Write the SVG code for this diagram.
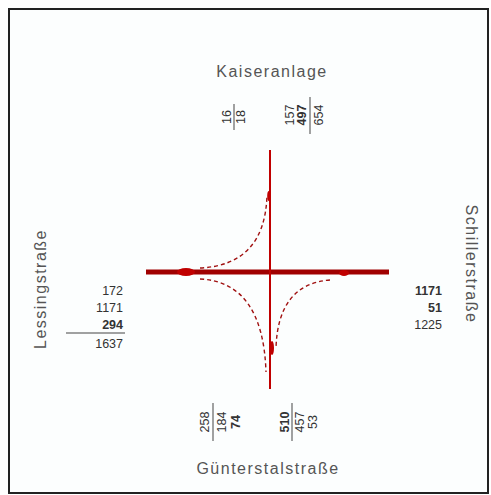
<svg xmlns="http://www.w3.org/2000/svg" width="491" height="495" viewBox="0 0 491 495">
<style>
.street{font-family:"Liberation Sans",Arial,sans-serif;font-size:16px;fill:#555;text-anchor:middle;letter-spacing:1.5px}
.num{font-family:"Liberation Sans",Arial,sans-serif;font-size:12.5px;fill:#333;text-anchor:middle;dominant-baseline:central}
.numr{font-family:"Liberation Sans",Arial,sans-serif;font-size:12.5px;fill:#333;text-anchor:end}
.b{font-weight:bold}
.sep{stroke:#444;stroke-width:1}
.dash{fill:none;stroke:#a01010;stroke-width:1.4;stroke-dasharray:4 3}
</style>
<rect x="0" y="0" width="491" height="495" fill="#fff"/>
<rect x="9" y="9" width="479" height="484" fill="#fcfefe" stroke="#222" stroke-width="2"/>
<g id="labels">
<text class="street" x="272" y="77">Kaiseranlage</text>
<text class="street" x="268" y="474">Günterstalstraße</text>
<text class="street" transform="translate(46,289) rotate(-90)">Lessingstraße</text>
<text class="street" transform="translate(466,264) rotate(90)">Schillerstraße</text>
</g>
<g id="node-top">
<text class="num" transform="translate(227,117) rotate(-90)">16</text>
<line class="sep" x1="234" y1="104" x2="234" y2="130"/>
<text class="num" transform="translate(241,117) rotate(-90)">18</text>
<text class="num" transform="translate(290,115) rotate(-90)">157</text>
<text class="num b" transform="translate(302,115) rotate(-90)">497</text>
<line class="sep" x1="310" y1="97" x2="310" y2="134"/>
<text class="num" transform="translate(319,115) rotate(-90)">654</text>
</g>
<g id="node-bottom">
<text class="num" transform="translate(205,422) rotate(-90)">258</text>
<line class="sep" x1="213" y1="403" x2="213" y2="441"/>
<text class="num" transform="translate(222,422) rotate(-90)">184</text>
<text class="num b" transform="translate(236,422) rotate(-90)">74</text>
<text class="num b" transform="translate(285,422) rotate(-90)">510</text>
<line class="sep" x1="292" y1="403" x2="292" y2="441"/>
<text class="num" transform="translate(300,422) rotate(-90)">457</text>
<text class="num" transform="translate(313,422) rotate(-90)">53</text>
</g>
<g id="node-left">
<text class="numr" x="123" y="295">172</text>
<text class="numr" x="123" y="312">1171</text>
<text class="numr b" x="123" y="329">294</text>
<line class="sep" x1="66" y1="333" x2="125" y2="333"/>
<text class="numr" x="123" y="348">1637</text>
</g>
<g id="node-right">
<text class="numr b" x="442" y="295">1171</text>
<text class="numr b" x="442" y="312">51</text>
<text class="numr" x="442" y="329">1225</text>
</g>
<g id="connectors">
<line x1="146" y1="272" x2="389" y2="272" stroke="#a00000" stroke-width="5"/>
<line x1="270" y1="150" x2="270" y2="389" stroke="#c00000" stroke-width="2"/>
<path class="dash" d="M200 268 Q265 265 267 195"/>
<path class="dash" d="M200 279 Q263 282 266 372"/>
<path class="dash" d="M330 280 Q278 284 276 348"/>
<ellipse cx="186" cy="272" rx="9" ry="4" fill="#c00000"/>
<ellipse cx="344" cy="273" rx="5" ry="3" fill="#c00000"/>
<ellipse cx="269" cy="196" rx="1.8" ry="5" fill="#c00000"/>
<ellipse cx="272" cy="348" rx="2" ry="7" fill="#c00000"/>
</g>
</svg>
